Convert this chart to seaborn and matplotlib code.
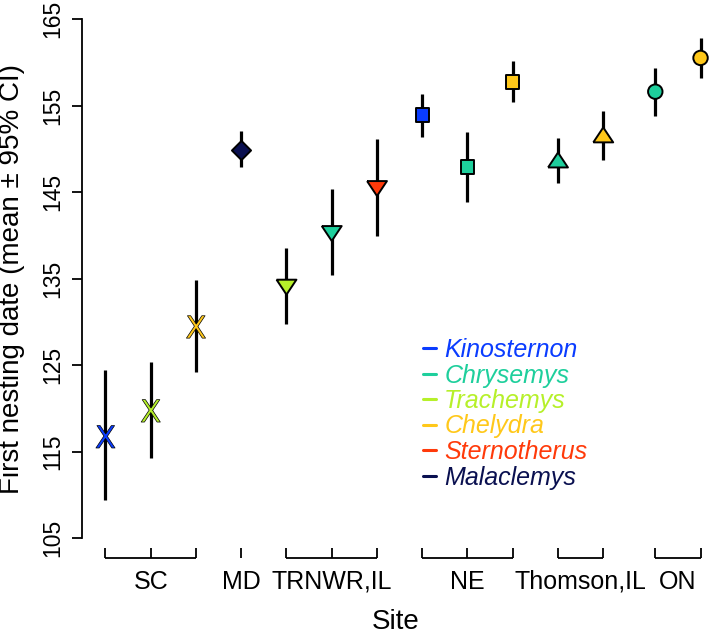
import numpy as np
import pandas as pd
import matplotlib
matplotlib.use("Agg")
import matplotlib.pyplot as plt
from matplotlib.lines import Line2D
import seaborn as sns

# ---- data ----
sites = ["SC", "SC", "SC", "MD", "TRNWR,IL", "TRNWR,IL", "TRNWR,IL",
         "NE", "NE", "NE", "Thomson,IL", "Thomson,IL", "ON", "ON"]
species = ["Kinosternon", "Trachemys", "Chelydra", "Malaclemys",
           "Trachemys", "Chrysemys", "Sternotherus",
           "Kinosternon", "Chrysemys", "Chelydra",
           "Chrysemys", "Chelydra", "Chrysemys", "Chelydra"]
means = [116.7, 119.7, 129.4, 149.9, 134.0, 140.2, 145.4,
         153.9, 147.9, 157.7, 148.7, 151.6, 156.6, 160.5]
lower = [109.4, 114.2, 124.2, 147.9, 129.7, 135.4, 139.9,
         151.4, 143.8, 155.4, 146.0, 148.7, 153.8, 158.2]
upper = [124.4, 125.3, 134.8, 152.0, 138.5, 145.4, 151.1,
         156.3, 151.9, 160.1, 151.3, 154.4, 159.3, 162.8]
positions = [1, 2, 3, 4, 5, 6, 7, 8, 9, 10, 11, 12, 13.15, 14.15]
site_order = ["SC", "MD", "TRNWR,IL", "NE", "Thomson,IL", "ON"]
legend_order = ["Kinosternon", "Chrysemys", "Trachemys", "Chelydra",
                "Sternotherus", "Malaclemys"]
palette = {"Kinosternon": "#0a3cff", "Chrysemys": "#1ecf9c",
           "Trachemys": "#b6f02a", "Chelydra": "#ffc81a",
           "Sternotherus": "#ff3a0a", "Malaclemys": "#0a1050"}

df = pd.DataFrame({"site": sites, "species": species, "mean": means,
                   "lo": lower, "hi": upper, "pos": positions})

sns.set_style("white")
plt.rcParams["font.family"] = ["Liberation Sans", "DejaVu Sans"]
plt.rcParams["text.color"] = "black"
plt.rcParams["axes.labelcolor"] = "black"
plt.rcParams["xtick.color"] = "black"
plt.rcParams["ytick.color"] = "black"

W, H = 709, 634
fig = plt.figure(figsize=(W / 100, H / 100), dpi=100)
ax = fig.add_axes([82 / W, 1 - 538 / H, (W - 82) / W, (538 - 19) / H])

# error bars
ax.vlines(df["pos"], df["lo"], df["hi"], color="black", lw=2.3, zorder=1)

tri_up = [(-1, -0.75), (1, -0.75), (0, 0.75), (-1, -0.75)]
tri_dn = [(-1, 0.75), (1, 0.75), (0, -0.75), (-1, 0.75)]
site_marker = {"SC": (r"$\mathsf{X}$", 260, 0.5),
               "MD": ("D", 95, 1.4),
               "TRNWR,IL": (tri_dn, 205, 1.4),
               "NE": ("s", 92, 1.4),
               "Thomson,IL": (tri_up, 205, 1.4),
               "ON": ("o", 108, 1.4)}
for s in site_order:
    sub = df[df["site"] == s]
    m, size, lw = site_marker[s]
    sns.scatterplot(data=sub, x="pos", y="mean", hue="species",
                    palette=palette, marker=m, s=size, edgecolor="black",
                    linewidth=lw, legend=False, ax=ax, zorder=3,
                    clip_on=False)

ax.set_xlim(0.481, 14.337)
ax.set_ylim(105, 165)
ax.set_yticks([105, 115, 125, 135, 145, 155, 165])
ax.tick_params(axis="y", direction="out", length=7.2, width=1.3,
               labelsize=16.5, pad=5.5, left=True, color="black",
               labelcolor="black")
for lab in ax.get_yticklabels():
    lab.set_rotation(90)
    lab.set_va("center")
    lab.set_ha("right")
ax.set_xticks([])
for sp in ["top", "right", "bottom"]:
    ax.spines[sp].set_visible(False)
ax.spines["left"].set_linewidth(1.3)
ax.spines["left"].set_color("black")

# site brackets
trans = ax.get_xaxis_transform()
y_line = -20 / 519
y_tick = -10 / 519
for s in site_order:
    p = df.loc[df["site"] == s, "pos"].values
    if len(p) > 1:
        ax.plot([p.min(), p.max()], [y_line, y_line], color="black",
                lw=1.3, transform=trans, clip_on=False, solid_capstyle="butt")
    for xp in p:
        ax.plot([xp, xp], [y_line, y_tick], color="black", lw=1.3,
                transform=trans, clip_on=False, solid_capstyle="butt")
    ax.text(p.mean(), -44 / 519, s, transform=trans, ha="center",
            va="center", fontsize=18, color="black")

ax.set_xlabel("Site", fontsize=20, color="black")
ax.xaxis.set_label_coords(0.5, -84 / 519)
ax.xaxis.label.set_va("center")
ax.set_ylabel("First nesting date (mean \u00b1 95% CI)", fontsize=20,
              color="black")
ax.yaxis.set_label_coords(-70 / 627, 0.5)
ax.yaxis.label.set_va("center")

handles = [Line2D([], [], color=palette[sp], lw=2.2) for sp in legend_order]
leg = ax.legend(handles, legend_order, loc="upper left",
                bbox_to_anchor=(423 / W, 1 - 338 / H),
                bbox_transform=fig.transFigure, frameon=False,
                borderpad=0, borderaxespad=0, handlelength=0.5,
                handletextpad=0.35, labelspacing=0.06,
                prop={"style": "italic", "size": 18},
                labelcolor="linecolor")

fig.savefig("out.png", dpi=100)
